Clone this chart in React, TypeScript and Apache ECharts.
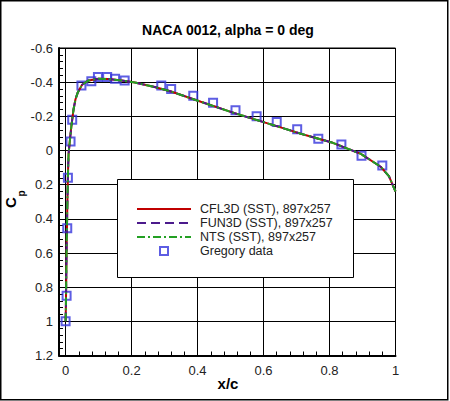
import React, { useEffect, useRef } from 'react'
import * as echarts from 'echarts'

// CFD surface pressure (upper surface, identical lower surface at alpha = 0)
const xCurve = [0, 0.001, 0.002, 0.003, 0.005, 0.007, 0.009, 0.013, 0.018, 0.024, 0.03, 0.037, 0.05, 0.07, 0.1, 0.13, 0.17, 0.21, 0.27, 0.32, 0.41, 0.51, 0.61, 0.71, 0.81, 0.895, 0.955, 0.98, 1.0]
const cfl3dCp = [1.0, 0.9, 0.75, 0.58, 0.35, 0.15, 0.02, -0.06, -0.15, -0.24, -0.3, -0.34, -0.385, -0.41, -0.42, -0.418, -0.41, -0.398, -0.372, -0.345, -0.285, -0.22, -0.16, -0.1, -0.045, 0.02, 0.095, 0.15, 0.24]
const fun3dCp = [1.0, 0.9, 0.75, 0.58, 0.35, 0.15, 0.02, -0.06, -0.15, -0.24, -0.3, -0.34, -0.385, -0.41, -0.42, -0.418, -0.41, -0.398, -0.372, -0.345, -0.285, -0.22, -0.16, -0.1, -0.045, 0.02, 0.095, 0.15, 0.24]
const ntsCp = [1.0, 0.9, 0.75, 0.58, 0.35, 0.15, 0.02, -0.06, -0.15, -0.24, -0.3, -0.34, -0.385, -0.41, -0.42, -0.418, -0.41, -0.398, -0.372, -0.345, -0.285, -0.22, -0.16, -0.1, -0.045, 0.02, 0.095, 0.15, 0.24]

// experiment
const gregoryX = [0, 0.003, 0.005, 0.007, 0.015, 0.02, 0.048, 0.078, 0.098, 0.126, 0.15, 0.179, 0.29, 0.32, 0.387, 0.447, 0.515, 0.579, 0.64, 0.702, 0.766, 0.836, 0.897, 0.96]
const gregoryCp = [1.0, 0.85, 0.455, 0.16, -0.053, -0.18, -0.38, -0.405, -0.43, -0.43, -0.42, -0.41, -0.38, -0.36, -0.32, -0.28, -0.235, -0.2, -0.167, -0.124, -0.069, -0.035, 0.03, 0.088]

const seriesNames = ['CFL3D (SST), 897x257', 'FUN3D (SST), 897x257', 'NTS (SST), 897x257', 'Gregory data']
const xMinorTicks = [0.04, 0.08, 0.12, 0.16, 0.24, 0.28, 0.32, 0.36, 0.44, 0.48, 0.52, 0.56, 0.64, 0.68, 0.72, 0.76, 0.84, 0.88, 0.92, 0.96]

const font = 'Liberation Sans, Arial, sans-serif'

const App = () => {
  const chartRef: any = useRef(null)

  useEffect(() => {
    const chart = echarts.init(chartRef.current, null, { renderer: 'svg' })

    const pairs = (xs: number[], ys: number[]) => xs.map((x, i) => [x, ys[i]])
    // hide the little circle echarts puts on line legend icons
    const lineItem = (name: string) => ({
      name,
      itemStyle: { color: 'rgba(0,0,0,0)', borderColor: 'rgba(0,0,0,0)', opacity: 0 }
    })

    const options: any = {
      animation: false,
      backgroundColor: '#fff',
      title: {
        text: 'NACA 0012, alpha = 0 deg',
        left: 228,
        top: 23,
        padding: 0,
        textAlign: 'center',
        textStyle: { fontSize: 14, fontWeight: 'bold', color: '#000', fontFamily: font }
      },
      grid: {
        left: 59,
        right: 54.5,
        top: 48,
        bottom: 45.5,
        show: true,
        borderColor: '#000',
        borderWidth: 1,
        outerBoundsMode: 'none'
      },
      legend: {
        orient: 'vertical',
        left: 136,
        top: 202,
        padding: 0,
        itemGap: 0,
        itemWidth: 54,
        itemHeight: 8,
        data: [
          lineItem(seriesNames[0]),
          lineItem(seriesNames[1]),
          lineItem(seriesNames[2]),
          { name: seriesNames[3], icon: 'path://M0,0h8v8h-8z' }
        ],
        textStyle: { fontSize: 12.5, color: '#222', fontFamily: font, lineHeight: 14, padding: [0, 0, 0, 4] }
      },
      xAxis: [
        {
          type: 'value',
          min: -0.02,
          max: 1,
          axisLine: { show: true, onZero: false, lineStyle: { color: '#000', width: 2 } },
          axisTick: { show: true, inside: true, length: 6, lineStyle: { color: '#000' } },
          splitLine: { show: true, lineStyle: { color: '#000', width: 1 } },
          axisLabel: {
            margin: 8,
            fontSize: 13,
            color: '#222',
            fontFamily: font,
            formatter: (v: number) => (v < -1e-9 ? '' : String(Math.round(v * 10) / 10))
          }
        },
        {
          type: 'value',
          min: -0.02,
          max: 1,
          position: 'bottom',
          axisLine: { show: false, onZero: false },
          axisTick: { show: true, inside: true, length: 4, customValues: xMinorTicks, lineStyle: { color: '#000' } },
          splitLine: { show: false },
          axisLabel: { show: false }
        }
      ],
      yAxis: {
        type: 'value',
        inverse: true,
        min: -0.6,
        max: 1.2,
        interval: 0.2,
        axisLine: { show: true, onZero: false, lineStyle: { color: '#000', width: 2 } },
        axisTick: { show: true, inside: true, length: 6, lineStyle: { color: '#000' } },
        minorTick: { show: true, splitNumber: 5, length: 4, lineStyle: { color: '#000' } },
        splitLine: { show: true, lineStyle: { color: '#000', width: 1 } },
        axisLabel: { margin: 6, fontSize: 13, color: '#222', fontFamily: font }
      },
      graphic: [
        {
          type: 'rect',
          z: 3,
          shape: { x: 117.5, y: 179.5, width: 236, height: 98 },
          style: { fill: '#fff', stroke: '#000', lineWidth: 1 }
        },
        {
          type: 'rect',
          z: 10,
          shape: { x: 0.75, y: 0.75, width: 447, height: 399 },
          style: { fill: 'none', stroke: '#000', lineWidth: 1.5 }
        },
        {
          type: 'text',
          x: 10.5,
          y: 202.5,
          rotation: Math.PI / 2,
          style: { text: 'C', fontSize: 15, fontWeight: 'bold', fill: '#000', fontFamily: font, align: 'center', verticalAlign: 'middle' }
        },
        {
          type: 'text',
          x: 21.5,
          y: 193.5,
          rotation: Math.PI / 2,
          style: { text: 'p', fontSize: 10, fontWeight: 'bold', fill: '#000', fontFamily: font, align: 'center', verticalAlign: 'middle' }
        },
        {
          type: 'text',
          x: 228,
          y: 383,
          style: { text: 'x/c', fontSize: 15, fontWeight: 'bold', fill: '#000', fontFamily: font, align: 'center', verticalAlign: 'middle' }
        }
      ],
      series: [
        {
          name: seriesNames[0],
          type: 'line',
          symbol: 'none',
          data: pairs(xCurve, cfl3dCp),
          lineStyle: { color: '#c00000', width: 2, type: 'solid' },
          itemStyle: { color: '#c00000' }
        },
        {
          name: seriesNames[1],
          type: 'line',
          symbol: 'none',
          data: pairs(xCurve, fun3dCp),
          lineStyle: { color: '#4b1a8c', width: 2, type: [9, 5] },
          itemStyle: { color: '#4b1a8c' }
        },
        {
          name: seriesNames[2],
          type: 'line',
          symbol: 'none',
          data: pairs(xCurve, ntsCp),
          lineStyle: { color: '#23a023', width: 2, type: [8, 3, 2, 3] },
          itemStyle: { color: '#23a023' }
        },
        {
          name: seriesNames[3],
          type: 'scatter',
          symbol: 'rect',
          symbolSize: 8,
          data: pairs(gregoryX, gregoryCp),
          itemStyle: { color: 'rgba(0,0,0,0)', borderColor: '#3434dc', borderWidth: 2 }
        }
      ]
    }

    chart.setOption(options)

    return () => {
      chart.dispose()
    }
  }, [])

  return (
    <div
      ref={chartRef}
      style={{ position: 'absolute', left: 0, top: 0, width: 450, height: 401, background: '#fff' }}
    ></div>
  )
}

export default App
